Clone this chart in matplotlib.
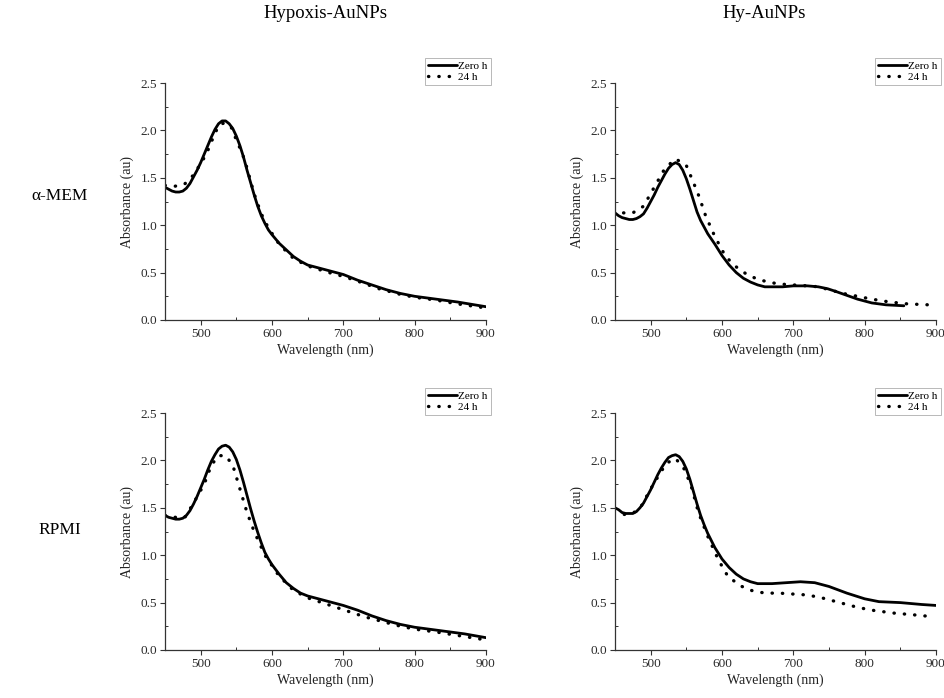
import matplotlib
matplotlib.use("Agg")
import matplotlib.pyplot as plt
from matplotlib.ticker import MultipleLocator, FormatStrFormatter

plt.rcParams["font.family"] = ["Liberation Serif", "DejaVu Serif"]

col_titles = ["Hypoxis-AuNPs", "Hy-AuNPs"]
row_titles = ["α-MEM", "RPMI"]
series_labels = ["Zero h", "24 h"]

# alpha-MEM, Hypoxis-AuNPs
mem_hyp_0h_x = [450, 455, 460, 465, 470, 475, 480, 485, 490, 495, 500, 505, 510, 515, 520, 525, 530, 535, 540, 545, 550, 555, 560, 565, 570, 575, 580, 585, 590, 595, 600, 610, 620, 630, 640, 650, 665, 680, 700, 720, 740, 760, 780, 800, 830, 860, 900]
mem_hyp_0h_y = [1.40, 1.38, 1.36, 1.35, 1.35, 1.36, 1.39, 1.44, 1.51, 1.58, 1.66, 1.75, 1.84, 1.93, 2.01, 2.07, 2.10, 2.10, 2.07, 2.02, 1.94, 1.84, 1.72, 1.58, 1.45, 1.32, 1.20, 1.10, 1.02, 0.95, 0.90, 0.81, 0.74, 0.67, 0.62, 0.58, 0.55, 0.52, 0.48, 0.42, 0.37, 0.32, 0.28, 0.25, 0.22, 0.19, 0.14]
mem_hyp_24h_x = [450, 463, 477, 490, 500, 508, 515, 525, 533, 543, 550, 557, 562, 568, 575, 585, 595, 610, 630, 650, 680, 700, 720, 750, 780, 800, 830, 860, 897]
mem_hyp_24h_y = [1.42, 1.41, 1.43, 1.53, 1.65, 1.75, 1.88, 2.05, 2.08, 2.03, 1.90, 1.78, 1.68, 1.52, 1.33, 1.12, 0.97, 0.80, 0.65, 0.57, 0.50, 0.46, 0.41, 0.33, 0.27, 0.24, 0.21, 0.17, 0.13]

# alpha-MEM, Hy-AuNPs
mem_hy_0h_x = [450, 455, 460, 465, 470, 475, 480, 485, 490, 495, 500, 505, 510, 515, 520, 525, 530, 535, 540, 545, 550, 555, 560, 565, 570, 575, 580, 590, 600, 610, 620, 630, 640, 650, 660, 670, 685, 700, 720, 735, 748, 760, 775, 790, 810, 830, 855]
mem_hy_0h_y = [1.13, 1.10, 1.08, 1.07, 1.06, 1.06, 1.07, 1.09, 1.12, 1.18, 1.25, 1.32, 1.40, 1.47, 1.54, 1.60, 1.64, 1.66, 1.64, 1.58, 1.49, 1.38, 1.26, 1.14, 1.05, 0.98, 0.91, 0.80, 0.68, 0.58, 0.50, 0.44, 0.40, 0.37, 0.35, 0.35, 0.35, 0.36, 0.36, 0.35, 0.33, 0.30, 0.26, 0.22, 0.18, 0.16, 0.15]
mem_hy_24h_x = [462, 475, 490, 505, 520, 535, 550, 560, 568, 577, 590, 605, 620, 635, 650, 665, 680, 700, 720, 735, 750, 770, 790, 810, 835, 860, 890]
mem_hy_24h_y = [1.13, 1.13, 1.20, 1.40, 1.60, 1.70, 1.63, 1.45, 1.30, 1.10, 0.88, 0.67, 0.56, 0.48, 0.43, 0.40, 0.38, 0.37, 0.36, 0.35, 0.32, 0.28, 0.25, 0.22, 0.19, 0.17, 0.16]

# RPMI, Hypoxis-AuNPs
rpmi_hyp_0h_x = [450, 455, 460, 465, 470, 475, 480, 485, 490, 495, 500, 505, 510, 515, 520, 525, 530, 535, 540, 545, 550, 555, 560, 565, 570, 575, 580, 585, 590, 595, 600, 610, 620, 630, 640, 650, 665, 680, 700, 720, 740, 760, 780, 800, 840, 870, 900]
rpmi_hyp_0h_y = [1.42, 1.40, 1.39, 1.38, 1.38, 1.39, 1.42, 1.47, 1.54, 1.62, 1.71, 1.80, 1.90, 1.99, 2.06, 2.12, 2.15, 2.16, 2.14, 2.09, 2.01, 1.90, 1.77, 1.63, 1.49, 1.36, 1.24, 1.13, 1.03, 0.96, 0.90, 0.80, 0.71, 0.65, 0.60, 0.57, 0.54, 0.51, 0.47, 0.42, 0.36, 0.31, 0.27, 0.24, 0.20, 0.17, 0.13]
rpmi_hyp_24h_x = [450, 462, 478, 490, 505, 515, 525, 535, 545, 557, 565, 575, 590, 610, 630, 650, 670, 690, 710, 730, 755, 775, 800, 830, 855, 880, 897]
rpmi_hyp_24h_y = [1.42, 1.40, 1.40, 1.55, 1.75, 1.95, 2.05, 2.05, 1.95, 1.65, 1.45, 1.25, 1.00, 0.78, 0.63, 0.55, 0.50, 0.45, 0.40, 0.35, 0.30, 0.26, 0.22, 0.19, 0.16, 0.13, 0.11]

# RPMI, Hy-AuNPs
rpmi_hy_0h_x = [450, 455, 460, 465, 470, 475, 480, 485, 490, 495, 500, 505, 510, 515, 520, 525, 530, 535, 540, 545, 550, 555, 560, 565, 570, 575, 580, 590, 600, 610, 620, 630, 640, 650, 660, 670, 690, 710, 730, 750, 775, 800, 820, 850, 880, 900]
rpmi_hy_0h_y = [1.50, 1.48, 1.45, 1.44, 1.44, 1.44, 1.46, 1.50, 1.55, 1.62, 1.69, 1.77, 1.85, 1.92, 1.98, 2.03, 2.05, 2.06, 2.04, 1.99, 1.91, 1.80, 1.67, 1.54, 1.42, 1.32, 1.23, 1.08, 0.96, 0.87, 0.80, 0.75, 0.72, 0.70, 0.70, 0.70, 0.71, 0.72, 0.71, 0.67, 0.60, 0.54, 0.51, 0.50, 0.48, 0.47]
rpmi_hy_24h_x = [463, 475, 487, 500, 512, 522, 535, 548, 558, 567, 580, 595, 608, 625, 640, 660, 680, 700, 720, 740, 765, 790, 810, 840, 870, 897]
rpmi_hy_24h_y = [1.43, 1.44, 1.52, 1.70, 1.85, 1.97, 2.02, 1.90, 1.70, 1.45, 1.20, 0.95, 0.78, 0.68, 0.63, 0.60, 0.60, 0.59, 0.58, 0.55, 0.50, 0.45, 0.42, 0.39, 0.37, 0.35]

panels = [
    [(mem_hyp_0h_x, mem_hyp_0h_y, mem_hyp_24h_x, mem_hyp_24h_y),
     (mem_hy_0h_x, mem_hy_0h_y, mem_hy_24h_x, mem_hy_24h_y)],
    [(rpmi_hyp_0h_x, rpmi_hyp_0h_y, rpmi_hyp_24h_x, rpmi_hyp_24h_y),
     (rpmi_hy_0h_x, rpmi_hy_0h_y, rpmi_hy_24h_x, rpmi_hy_24h_y)],
]

W, H = 945, 698
fig = plt.figure(figsize=(W / 100, H / 100), dpi=100)

col_left = [165, 615]
row_top = [83, 413]
ax_w, ax_h = 321, 237
ink = "#333333"

for r in range(2):
    for c in range(2):
        x0, y0 = col_left[c], row_top[r]
        ax = fig.add_axes([x0 / W, 1 - (y0 + ax_h) / H, ax_w / W, ax_h / H])
        zx, zy, dx, dy = panels[r][c]
        ax.plot(zx, zy, color="black", lw=2.0, label=series_labels[0],
                solid_joinstyle="round", solid_capstyle="round")
        ax.plot(dx, dy, color="black", lw=2.4, linestyle=(0, (0.1, 3.0)),
                dash_capstyle="round", label=series_labels[1])
        ax.set_xlim(450, 900)
        ax.set_ylim(0, 2.5)
        ax.set_xticks([500, 600, 700, 800, 900])
        ax.xaxis.set_minor_locator(MultipleLocator(50))
        ax.yaxis.set_major_locator(MultipleLocator(0.5))
        ax.yaxis.set_minor_locator(MultipleLocator(0.25))
        ax.yaxis.set_major_formatter(FormatStrFormatter("%.1f"))
        for s in ("top", "right"):
            ax.spines[s].set_visible(False)
        for s in ("left", "bottom"):
            ax.spines[s].set_linewidth(0.9)
            ax.spines[s].set_color(ink)
        ax.tick_params(which="major", direction="out", length=3.5, width=0.8,
                       labelsize=9.5, colors=ink, labelcolor="#2a2a2a", pad=2)
        ax.tick_params(which="minor", direction="in", length=2.5, width=0.7,
                       colors=ink)
        ax.set_xlabel("Wavelength (nm)", fontsize=10, labelpad=3, color="#222222")
        ax.set_ylabel("Absorbance (au)", fontsize=10, labelpad=5, color="#222222")
        leg = ax.legend(loc="upper right", bbox_to_anchor=(1.016, 1.105),
                        borderaxespad=0, fontsize=8, fancybox=False,
                        frameon=True, handlelength=2.6, handletextpad=0.15,
                        borderpad=0.3, labelspacing=0.1)
        leg.get_frame().set_edgecolor("#999999")
        leg.get_frame().set_linewidth(0.6)

fig.text(325 / W, 1 - 13 / H, col_titles[0], ha="center", va="center", fontsize=13.5)
fig.text(764 / W, 1 - 13 / H, col_titles[1], ha="center", va="center", fontsize=13.5)
fig.text(60 / W, 1 - 196 / H, row_titles[0], ha="center", va="center", fontsize=12.5)
fig.text(60 / W, 1 - 530 / H, row_titles[1], ha="center", va="center", fontsize=12.5)

fig.savefig("out.png", dpi=100, facecolor="white")
